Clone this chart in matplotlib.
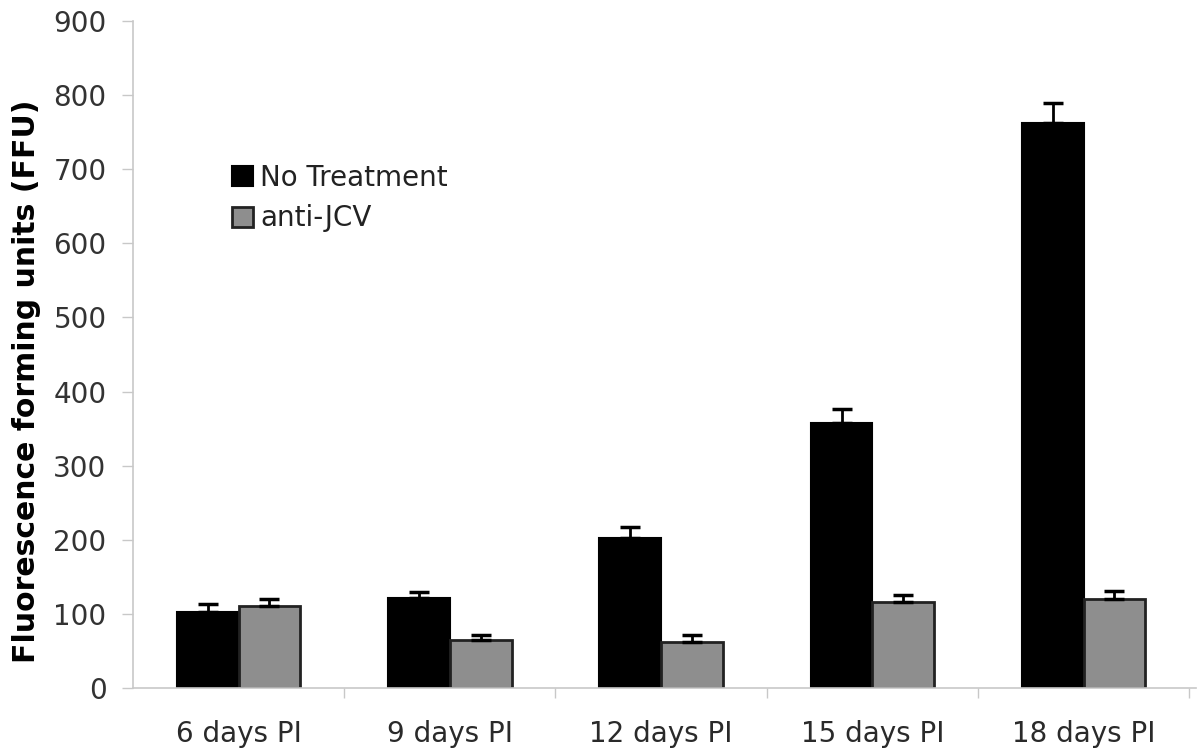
import numpy as np
import matplotlib.pyplot as plt

categories = ['6 days PI', '9 days PI', '12 days PI', '15 days PI', '18 days PI']
no_treatment = [103, 122, 203, 358, 762]
no_treatment_err = [10, 8, 14, 18, 27]
anti_jcv = [111, 65, 62, 116, 120]
anti_jcv_err = [9, 7, 9, 10, 11]

plt.rcParams['font.family'] = ['DejaVu Sans']

fig = plt.figure(figsize=(11.98, 7.53), dpi=100)
ax = fig.add_axes([0.111, 0.0863, 0.887, 0.886])

x = np.arange(len(categories))
w = 0.292

err_style = dict(ecolor='black', elinewidth=2, capsize=7.5, capthick=2.5, zorder=3)
ax.bar(x - w / 2, no_treatment, w, color='black', edgecolor='black', linewidth=1.5,
       yerr=[np.zeros(len(x)), no_treatment_err], error_kw=err_style, label='No Treatment', zorder=2)
ax.bar(x + w / 2, anti_jcv, w, color='#8e8e8e', edgecolor='#222222', linewidth=2,
       yerr=[np.zeros(len(x)), anti_jcv_err], error_kw=err_style, label='anti-JCV', zorder=2)

ax.set_xlim(-0.5, len(categories) - 0.5 + 0.03)
ax.set_ylim(0, 900)
ax.set_yticks(range(0, 901, 100))

# category labels centred under groups, tick marks on group boundaries
ax.set_xticks(x)
ax.set_xticklabels(categories)
ax.set_xticks(np.arange(len(categories)) + 0.5, minor=True)
ax.tick_params(axis='x', which='major', length=0, pad=23, labelsize=20, labelcolor='#2a2a2a')
ax.tick_params(axis='x', which='minor', length=7, width=1, color='#c8c8c8', direction='out')
ax.tick_params(axis='y', length=8, width=1, color='#c8c8c8', pad=11, labelsize=20, labelcolor='#333333')

for side in ['top', 'right']:
    ax.spines[side].set_visible(False)
for side in ['left', 'bottom']:
    ax.spines[side].set_color('#c8c8c8')
    ax.spines[side].set_linewidth(1.2)

ax.set_ylabel('Fluorescence forming units (FFU)', fontsize=21.5, fontweight='bold')
ax.yaxis.set_label_coords(-0.087, 0.46)

ax.legend(loc='upper left', bbox_to_anchor=(0.07, 0.823), frameon=False, fontsize=20,
          handlelength=0.75, handleheight=0.75, handletextpad=0.25, labelspacing=0.45,
          labelcolor='#222222')

plt.savefig('out.png', dpi=100)
